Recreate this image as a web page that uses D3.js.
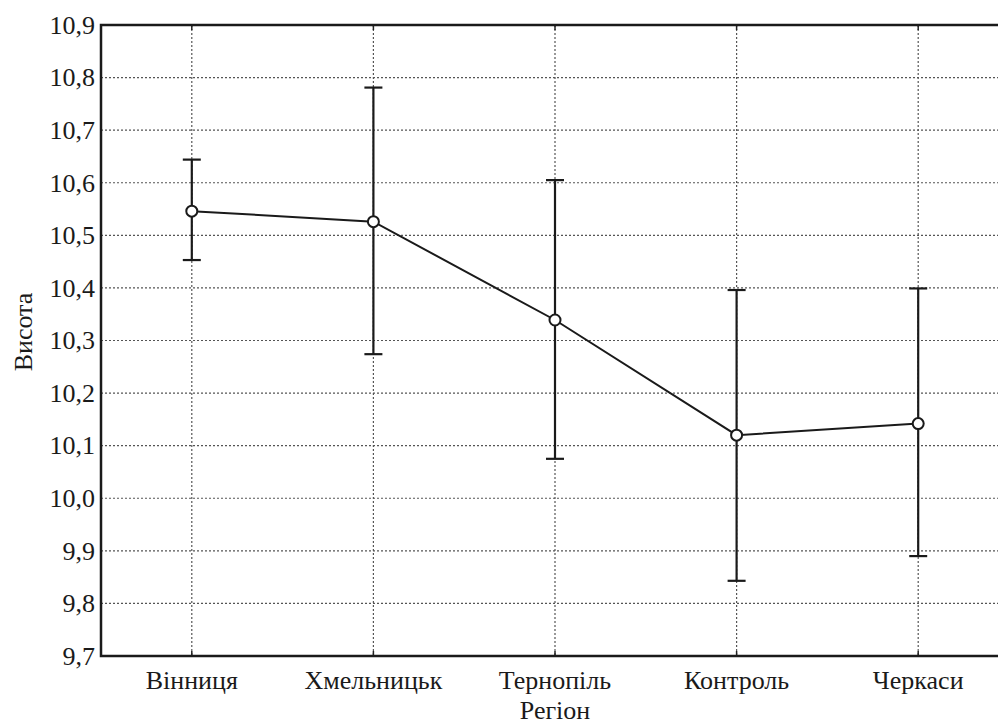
<!DOCTYPE html>
<html>
<head>
<meta charset="utf-8">
<script src="https://cdn.jsdelivr.net/npm/d3@7"></script>
<style>
  html, body { margin: 0; padding: 0; background: #fff; overflow: hidden; }
  svg { display: block; }
  svg text { fill: #1a1a1a; }
</style>
</head>
<body>
<svg id="chart" width="998" height="725"></svg>
<script>
// ---- data ----
const categories = ["Вінниця", "Хмельницьк", "Тернопіль", "Контроль", "Черкаси"];
const means = [10.546, 10.526, 10.339, 10.120, 10.142];
const upper = [10.644, 10.781, 10.605, 10.396, 10.399];
const lower = [10.453, 10.274, 10.075, 9.843, 9.890];
const yTicks = [9.7, 9.8, 9.9, 10.0, 10.1, 10.2, 10.3, 10.4, 10.5, 10.6, 10.7, 10.8, 10.9];
const xTitle = "Регіон";
const yTitle = "Висота";

const FONT = "'Liberation Serif', 'Times New Roman', 'DejaVu Serif', serif";
const FS = 26;
const svg = d3.select("#chart");
const pL = 101, pT = 25, pB = 656, pR = 1009;

const x = d3.scaleBand().domain(categories).range([pL, pR]).padding(0);
const cx = c => x(c) + x.bandwidth() / 2;
const y = d3.scaleLinear().domain([9.7, 10.9]).range([pB, pT]);
const fmt = v => d3.format(".1f")(v).replace(".", ",");

// grid
const grid = svg.append("g");
grid.selectAll("line.h").data(yTicks.slice(1, -1)).join("line")
  .attr("x1", pL).attr("x2", pR)
  .attr("y1", d => y(d)).attr("y2", d => y(d))
  .attr("stroke", "#555").attr("stroke-width", 1.2).attr("stroke-dasharray", "2,2");
grid.selectAll("line.v").data(categories).join("line")
  .attr("x1", d => cx(d)).attr("x2", d => cx(d))
  .attr("y1", pT).attr("y2", pB)
  .attr("stroke", "#555").attr("stroke-width", 1.2).attr("stroke-dasharray", "2,2");

// axes
const yAxis = d3.axisLeft(y).tickValues(yTicks).tickFormat(fmt).tickSize(0).tickPadding(6);
const gy = svg.append("g").attr("transform", `translate(${pL},0)`).call(yAxis)
  .attr("font-family", FONT).attr("font-size", FS);
gy.select(".domain").remove();
gy.selectAll("text").attr("fill", "#1a1a1a");

const xAxis = d3.axisBottom(x).tickSize(0).tickPadding(15);
const gx = svg.append("g").attr("transform", `translate(0,${pB})`).call(xAxis)
  .attr("font-family", FONT).attr("font-size", FS);
gx.select(".domain").remove();
gx.selectAll("text").attr("fill", "#1a1a1a");

// small ticks inward
svg.append("g").selectAll("line").data(categories).join("line")
  .attr("x1", d => cx(d)).attr("x2", d => cx(d))
  .attr("y1", pB).attr("y2", pB - 5).attr("stroke", "#222").attr("stroke-width", 1.5);
svg.append("g").selectAll("line").data(categories).join("line")
  .attr("x1", d => cx(d)).attr("x2", d => cx(d))
  .attr("y1", pT).attr("y2", pT + 5).attr("stroke", "#222").attr("stroke-width", 1.5);

// frame
svg.append("path")
  .attr("d", `M${pR},${pT}H${pL}V${pB}H${pR}`)
  .attr("fill", "none").attr("stroke", "#1a1a1a").attr("stroke-width", 2.5);

// titles
svg.append("text").attr("x", cx(categories[2])).attr("y", 719)
  .attr("text-anchor", "middle").attr("font-size", FS).attr("font-family", FONT).text(xTitle);
svg.append("text").attr("transform", "translate(32,332) rotate(-90)")
  .attr("text-anchor", "middle").attr("font-size", FS).attr("font-family", FONT).text(yTitle);

// error bars
const eb = svg.append("g").attr("stroke", "#1a1a1a").attr("stroke-width", 2.2);
categories.forEach((c, i) => {
  eb.append("line").attr("x1", cx(c)).attr("x2", cx(c)).attr("y1", y(upper[i])).attr("y2", y(lower[i]));
  eb.append("line").attr("x1", cx(c) - 9).attr("x2", cx(c) + 9).attr("y1", y(upper[i])).attr("y2", y(upper[i]));
  eb.append("line").attr("x1", cx(c) - 9).attr("x2", cx(c) + 9).attr("y1", y(lower[i])).attr("y2", y(lower[i]));
});

// mean line
const pts = categories.map((c, i) => [cx(c), y(means[i])]);
svg.append("path").attr("d", d3.line()(pts))
  .attr("fill", "none").attr("stroke", "#1a1a1a").attr("stroke-width", 2);

svg.append("g").selectAll("circle").data(pts).join("circle")
  .attr("cx", d => d[0]).attr("cy", d => d[1]).attr("r", 5.5)
  .attr("fill", "#fff").attr("stroke", "#1a1a1a").attr("stroke-width", 2);
</script>
</body>
</html>
